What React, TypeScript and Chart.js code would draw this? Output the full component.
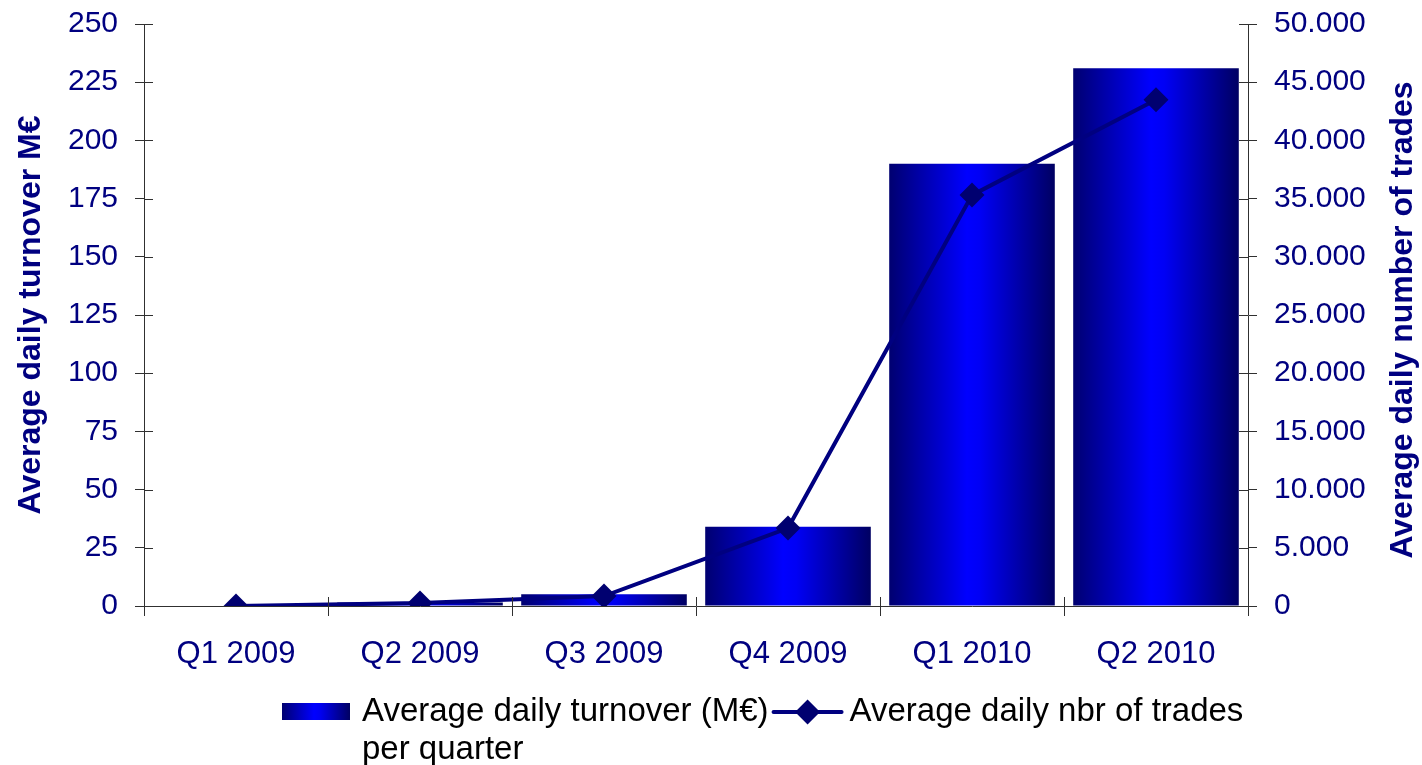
import React, { useEffect, useRef } from "react";
import { Chart, registerables } from "chart.js";

Chart.register(...registerables);

const categories = ["Q1 2009", "Q2 2009", "Q3 2009", "Q4 2009", "Q1 2010", "Q2 2010"];
const turnover = [0, 1.5, 5, 34, 190, 231];
const trades = [0, 250, 850, 6700, 35300, 43500];
const turnoverLabel = "Average daily turnover (M€)";
const tradesLabelLines = ["Average daily nbr of trades", "per quarter"];
const leftTitle = "Average daily turnover M€";
const rightTitle = "Average daily number of trades";

const NAVY = "#000080";
const FONT = "'Liberation Sans', Arial, sans-serif";

function barGradient(ctx: CanvasRenderingContext2D, x0: number, x1: number) {
  const g = ctx.createLinearGradient(x0, 0, x1, 0);
  g.addColorStop(0, "#000070");
  g.addColorStop(0.47, "#0000FF");
  g.addColorStop(0.55, "#0000F5");
  g.addColorStop(1, "#000062");
  return g;
}

function fmtThousands(v: number) {
  const s = Math.round(v).toString();
  return s.replace(/\B(?=(\d{3})+(?!\d))/g, ".");
}

const innerTicksPlugin = {
  id: "innerTicks",
  afterDatasetsDraw(chart: any) {
    const { ctx, chartArea, scales } = chart;
    ctx.save();
    ctx.strokeStyle = "#303030";
    ctx.lineWidth = 1;
    const yL = scales.y;
    const yR = scales.y2;
    ctx.beginPath();
    yL.ticks.forEach((_t: any, i: number) => {
      const py = Math.round(yL.getPixelForTick(i)) + 0.5;
      ctx.moveTo(chartArea.left, py);
      ctx.lineTo(chartArea.left + 9, py);
    });
    yR.ticks.forEach((_t: any, i: number) => {
      const py = Math.round(yR.getPixelForTick(i)) + 0.5;
      ctx.moveTo(chartArea.right - 9, py);
      ctx.lineTo(chartArea.right, py);
    });
    const n = categories.length;
    const step = (chartArea.right - chartArea.left) / n;
    for (let i = 0; i <= n; i++) {
      const px = Math.round(chartArea.left + i * step) + 0.5;
      ctx.moveTo(px, chartArea.bottom);
      ctx.lineTo(px, chartArea.bottom - 9);
    }
    ctx.stroke();
    ctx.restore();
  },
};

const customTextPlugin = {
  id: "customText",
  afterDraw(chart: any) {
    const { ctx } = chart;
    ctx.save();
    ctx.font = `bold 32px ${FONT}`;
    ctx.fillStyle = NAVY;
    ctx.textAlign = "center";
    ctx.textBaseline = "middle";
    ctx.translate(1403, 320);
    ctx.rotate(-Math.PI / 2);
    ctx.fillText(rightTitle, 0, 0);
    ctx.restore();

    ctx.save();
    ctx.font = `33px ${FONT}`;
    ctx.textBaseline = "middle";
    ctx.textAlign = "left";
    const ly = 712;
    const bx = 282;
    ctx.fillStyle = barGradient(ctx, bx, bx + 68);
    ctx.fillRect(bx, 703, 68, 17);
    ctx.fillStyle = "#000000";
    const tx1 = bx + 80;
    ctx.fillText(turnoverLabel, tx1, ly);
    const w1 = ctx.measureText(turnoverLabel).width;
    const lx0 = tx1 + w1 + 5;
    const lx1 = lx0 + 68;
    ctx.strokeStyle = NAVY;
    ctx.lineWidth = 4;
    ctx.lineCap = "round";
    ctx.beginPath();
    ctx.moveTo(lx0, ly);
    ctx.lineTo(lx1, ly);
    ctx.stroke();
    const cx = (lx0 + lx1) / 2;
    const r = 12.5;
    ctx.fillStyle = "#000070";
    ctx.beginPath();
    ctx.moveTo(cx, ly - r);
    ctx.lineTo(cx + r, ly);
    ctx.lineTo(cx, ly + r);
    ctx.lineTo(cx - r, ly);
    ctx.closePath();
    ctx.fill();
    ctx.fillStyle = "#000000";
    ctx.fillText(tradesLabelLines[0], lx1 + 8, ly);
    ctx.fillText(tradesLabelLines[1], tx1, ly + 38);
    ctx.restore();
  },
};

export default function App() {
  const ref = useRef<HTMLCanvasElement | null>(null);

  useEffect(() => {
    document.body.style.margin = "0";
    const canvas = ref.current;
    if (!canvas) return;
    const chart = new Chart(canvas, {
      type: "bar",
      data: {
        labels: categories,
        datasets: [
          {
            type: "line",
            label: tradesLabelLines.join(" "),
            data: trades,
            yAxisID: "y2",
            borderColor: NAVY,
            borderWidth: 4,
            tension: 0,
            pointStyle: "rectRot",
            pointRadius: 12.5,
            pointBackgroundColor: "#000070",
            pointBorderColor: "#000070",
            pointBorderWidth: 0,
            order: 0,
          } as any,
          {
            type: "bar",
            label: turnoverLabel,
            data: turnover,
            yAxisID: "y",
            categoryPercentage: 1,
            barPercentage: 0.9,
            borderWidth: 0,
            order: 1,
            backgroundColor: (c: any) => {
              const ch = c.chart;
              const xs = ch.scales && ch.scales.x;
              if (!xs || c.type !== "data") return "#0000cc";
              const center = xs.getPixelForValue(c.dataIndex);
              const w = (xs.width / categories.length) * 0.9;
              if (!isFinite(center) || !isFinite(w) || w <= 0) return "#0000cc";
              return barGradient(ch.ctx, center - w / 2, center + w / 2);
            },
          } as any,
        ],
      },
      options: {
        responsive: false,
        animation: false,
        layout: { padding: { top: 24, left: 0, right: 0, bottom: 0 } },
        plugins: {
          legend: { display: false },
          tooltip: { enabled: false },
          title: { display: false },
        },
        scales: {
          x: {
            offset: true,
            grid: {
              offset: true,
              drawOnChartArea: false,
              tickLength: 10,
              color: "#303030",
            },
            border: { color: "#303030", width: 1 },
            ticks: {
              color: NAVY,
              font: { family: FONT, size: 31 },
              padding: 20,
              maxRotation: 0,
            },
            afterFit: (s: any) => {
              s.height = 159;
            },
          },
          y: {
            position: "left",
            min: 0,
            max: 250,
            grid: { drawOnChartArea: false, tickLength: 9, color: "#303030" },
            border: { color: "#303030", width: 1 },
            ticks: {
              stepSize: 25,
              color: NAVY,
              font: { family: FONT, size: 30 },
              padding: 17,
            },
            title: {
              display: true,
              text: leftTitle,
              color: NAVY,
              font: { family: FONT, size: 32, weight: "bold" },
              padding: { top: 12, bottom: 0 },
            },
            afterFit: (s: any) => {
              s.width = 144;
              s.paddingTop = 10;
              s.paddingBottom = 10;
            },
          },
          y2: {
            position: "right",
            min: 0,
            max: 50000,
            grid: { drawOnChartArea: false, tickLength: 9, color: "#303030" },
            border: { color: "#303030", width: 1 },
            ticks: {
              stepSize: 5000,
              color: NAVY,
              font: { family: FONT, size: 30 },
              padding: 17,
              callback: (v: any) => fmtThousands(Number(v)),
            },
            afterFit: (s: any) => {
              s.width = 174;
              s.paddingTop = 10;
              s.paddingBottom = 10;
            },
          },
        },
      },
      plugins: [innerTicksPlugin, customTextPlugin],
    });
    return () => chart.destroy();
  }, []);

  return (
    <div style={{ width: 1422, height: 765, background: "#fff" }}>
      <canvas ref={ref} width={1422} height={765} style={{ display: "block" }} />
    </div>
  );
}
